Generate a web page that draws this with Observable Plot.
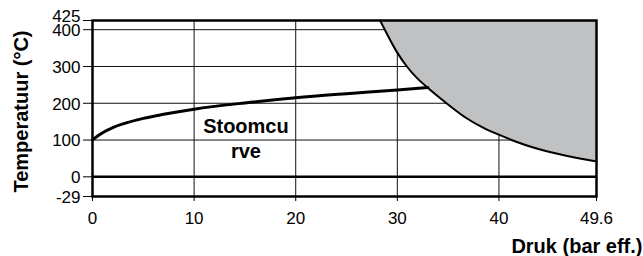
<!DOCTYPE html>
<html><head><meta charset="utf-8">
<script src="https://cdn.jsdelivr.net/npm/d3@7"></script>
<script src="https://cdn.jsdelivr.net/npm/@observablehq/plot@0.6"></script>
<style>body{margin:0;background:#fff;} svg{overflow:visible;}</style>
</head><body><div id="chart"></div>
<script>
// Saturated steam curve (Stoomcurve)
const steamPressure = [0, 0.5, 1, 2, 3, 5, 7, 10, 15, 20, 25, 30, 33];
const steamTemp     = [100, 111, 120, 134, 144, 159, 170, 184, 201, 215, 226, 236, 243];
// Boundary of the grey (not allowed) region
const limitPressure = [28.3, 29.1, 29.9, 30.9, 31.9, 33.0, 34.2, 35.2, 36.8, 38.5, 40.1, 41.7, 43.3, 44.9, 46.5, 48.1, 49.6];
const limitTemp     = [425, 382, 340, 300, 268, 242, 214, 192, 158, 132, 113, 95, 80, 68, 58, 49, 42];
// Axes
const xTicks = [0, 10, 20, 30, 40, 49.6];
const yTicks = [-29, 0, 100, 200, 300, 400, 425];
const yTopTick = [425];
const xGrid = [10, 20, 30, 40];
const yGrid = [100, 200, 300, 400];
const curveLabel = ["Stoomcu\nrve"];
const curveLabelX = [15.1];
const curveLabelY = [108];

const steam = steamPressure.map((p, i) => ({p, t: steamTemp[i]}));
const limit = limitPressure.map((p, i) => ({p, t: limitTemp[i]}));

// the reference's temperature axis is broken below 0 (-29 drawn further down)
const yBreak = v => (v < 0 ? v * (53.5 / 29) : v);

const chart = Plot.plot({
  width: 643,
  height: 256,
  marginLeft: 92, marginRight: 47, marginTop: 20, marginBottom: 60,
  style: {fontFamily: "Liberation Sans, Arial, sans-serif", background: "#fff", color: "#000"},
  x: {domain: [0, 49.6]},
  y: {transform: yBreak, domain: [yBreak(-29), 425]},
  marks: [
    Plot.ruleX(xGrid, {stroke: "#111", strokeWidth: 1}),
    Plot.ruleY(yGrid, {stroke: "#111", strokeWidth: 1}),
    Plot.areaY(limit, {x: "p", y1: "t", y2: 425, fill: "#c0c1c3", curve: "basis"}),
    Plot.line(limit, {x: "p", y: "t", stroke: "#000", strokeWidth: 2, curve: "basis"}),
    Plot.line(steam, {x: "p", y: "t", stroke: "#000", strokeWidth: 3, curve: "monotone-x"}),
    Plot.ruleY([0], {stroke: "#000", strokeWidth: 2.5}),
    Plot.frame({stroke: "#000", strokeWidth: 2.5}),
    Plot.axisX(xTicks, {tickSize: 5, tickPadding: 10, fontSize: 17, tickFormat: d => String(d), label: null}),
    Plot.axisY(yTicks, {tickSize: 9, tickPadding: 0, fontSize: 17, tickFormat: () => "", label: null}),
    Plot.axisY(yTicks.filter(d => !yTopTick.includes(d)), {tickSize: 0, tickPadding: 12, dy: 1, fontSize: 17, tickFormat: d => String(d), label: null}),
    Plot.axisY(yTopTick, {tickSize: 0, tickPadding: 12, dy: -4, fontSize: 17, tickFormat: d => String(d), label: null}),
    Plot.text(curveLabel.map((s, i) => ({s, x: curveLabelX[i], y: curveLabelY[i]})), {
      x: "x", y: "y", text: "s", fontSize: 20, fontWeight: "bold", lineHeight: 1.25,
      fill: "#000", stroke: "#fff", strokeWidth: 8, paintOrder: "stroke"
    }),
    Plot.text(["Temperatuur (°C)"], {frameAnchor: "left", textAnchor: "middle", lineAnchor: "middle", rotate: -90, dx: -71, dy: 3, fontSize: 20, fontWeight: "bold", fill: "#000"}),
    Plot.text(["Druk (bar eff.)"], {frameAnchor: "bottom-right", textAnchor: "end", lineAnchor: "middle", dx: 46, dy: 50, fontSize: 20, fontWeight: "bold", fill: "#000"})
  ]
});
document.getElementById("chart").appendChild(chart);
</script>
</body></html>
